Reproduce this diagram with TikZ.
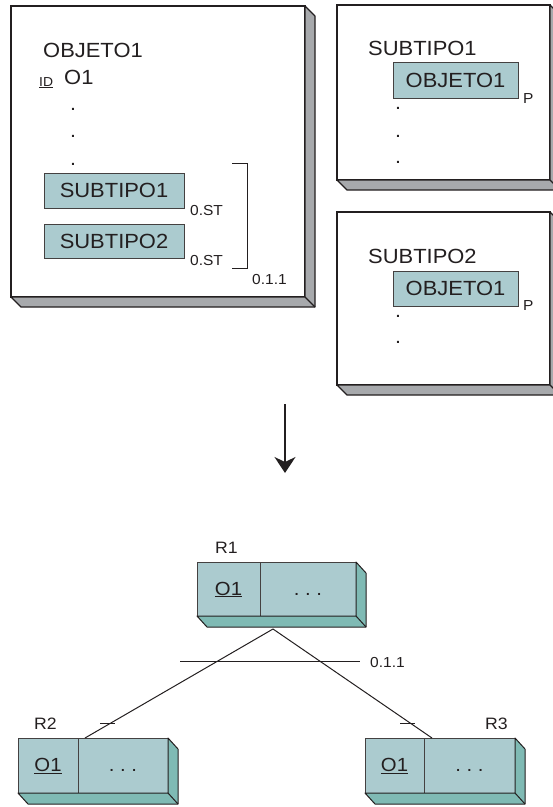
\documentclass[tikz,border=0pt]{standalone}
\usepackage{fontspec}
\setmainfont[FakeStretch=1.07]{Liberation Sans}
\usetikzlibrary{arrows.meta,positioning}
\definecolor{cellfill}{HTML}{ABCBCF}
\definecolor{cellside}{HTML}{7FBAB4}
\definecolor{panelside}{HTML}{A7A9AC}
\definecolor{ink}{HTML}{231F20}

\begin{document}
\begin{tikzpicture}[x=1pt, y=-1pt,
    panel/.style={draw=ink, line width=1.2pt, fill=white, rectangle, inner sep=0, outer sep=0, anchor=north west},
    cell/.style={draw=ink!85, line width=0.9pt, fill=cellfill, rectangle, inner sep=0, outer sep=0, anchor=north west, text=ink, font=\fontsize{20.5}{20.5}\selectfont},
    reccell/.style={cell, minimum height=55pt, text height=14pt, text depth=2pt, font=\fontsize{19}{19}\selectfont},
    txt/.style={inner sep=0, anchor=base west, text=ink, font=\fontsize{20.5}{20.5}\selectfont},
    small/.style={inner sep=0, anchor=base west, text=ink, font=\fontsize{14.5}{14.5}\selectfont},
    dotmark/.style={inner sep=0, anchor=base, text=ink, font=\fontsize{20}{20}\selectfont}]
    \useasboundingbox (0,0) rectangle (553,807);

    % Panels
    \node[panel, minimum width=294pt, minimum height=291pt] (obj) at (11,6) {};
    \node[panel, minimum width=213pt, minimum height=175pt] (sub1) at (337,5) {};
    \node[panel, minimum width=213pt, minimum height=173pt] (sub2) at (337,212) {};
    \foreach \p in {obj,sub1,sub2} {
        \draw[draw=ink, line width=1.2pt, fill=panelside, line join=round]
            (\p.north east) -- ++(10,10) -- ([shift={(10,10)}]\p.south east)
            -- ([shift={(10,10)}]\p.south west) -- (\p.south west) -- (\p.south east) -- cycle;
        \draw[draw=ink, line width=1.2pt] (\p.south east) -- ++(10,10);
    }

    % OBJETO1 panel
    \node[txt] (objname) at (43,57) {OBJETO1};
    \node[small, font=\fontsize{13}{13}\selectfont] (idmark) at (39,86) {\underline{ID}};
    \node[txt] (objid) at (64,84) {O1};
    \foreach \y in {110,137,165} \node[dotmark] at (73,\y) {.};
    \node[cell, minimum width=140pt, minimum height=35pt] (st1) at (44,173) {SUBTIPO1};
    \node[cell, minimum width=140pt, minimum height=34pt] (st2) at (44,224) {SUBTIPO2};
    \node[small] (st1card) at (190,215) {0.ST};
    \node[small] (st2card) at (190,265) {0.ST};
    \draw[ink, line width=1pt] (232,163) -- (247,163) -- (247,268) -- (232,268);
    \node[small] (stcard) at (252,284) {0.1.1};

    % SUBTIPO1 panel
    \node[txt] (sub1name) at (368,55) {SUBTIPO1};
    \node[cell, minimum width=125pt, minimum height=36pt] (ob1) at (393,62) {OBJETO1};
    \node[small] (ob1card) at (523,103) {P};
    \foreach \y in {109,137,163} \node[dotmark] at (398,\y) {.};

    % SUBTIPO2 panel
    \node[txt] (sub2name) at (368,263) {SUBTIPO2};
    \node[cell, minimum width=125pt, minimum height=35pt] (ob2) at (393,271) {OBJETO1};
    \node[small] (ob2card) at (523,310) {P};
    \foreach \y in {317,343} \node[dotmark] at (398,\y) {.};

    % Transformation arrow
    \coordinate (arrtop) at (285,404);
    \coordinate (arrtip) at (285,473);
    \draw[ink, line width=1.8pt, -{Stealth[length=16pt, width=21pt, inset=5pt]}] (arrtop) -- (arrtip);

    % Relations
    \node[reccell, minimum width=63pt, minimum height=54pt] (r1k) at (197,562) {\underline{O1}};
    \node[reccell, minimum width=96pt, minimum height=54pt, right=0pt of r1k] (r1r) {.\ .\ .};
    \node[reccell, minimum width=60pt] (r2k) at (18,738) {\underline{O1}};
    \node[reccell, minimum width=90pt, right=0pt of r2k] (r2r) {.\ .\ .};
    \node[reccell, minimum width=59pt] (r3k) at (365,738) {\underline{O1}};
    \node[reccell, minimum width=91pt, right=0pt of r3k] (r3r) {.\ .\ .};
    \foreach \k/\r in {r1k/r1r,r2k/r2r,r3k/r3r} {
        \draw[draw=ink, line width=1pt, fill=cellside, line join=round]
            (\r.north east) -- ++(10,11) -- ([shift={(10,11)}]\r.south east)
            -- ([shift={(10,11)}]\k.south west) -- (\k.south west) -- (\r.south east) -- cycle;
        \draw[draw=ink, line width=1pt] (\r.south east) -- ++(10,11);
    }
    \node[small, font=\fontsize{16.5}{16.5}\selectfont] (r1name) at (215,553) {R1};
    \node[small, font=\fontsize{16.5}{16.5}\selectfont] (r2name) at (34,729) {R2};
    \node[small, font=\fontsize{16.5}{16.5}\selectfont] (r3name) at (485,729) {R3};

    % Generalisation lines
    \coordinate (apex) at (273,629);
    \draw[ink, line width=1pt] (apex) -- ([xshift=7pt]r2r.north west);
    \draw[ink, line width=1pt] (apex) -- ([xshift=8pt]r3r.north west);
    \draw[ink, line width=1pt] (180,661) -- (360,661);
    \node[small] (gencard) at (370,667) {0.1.1};
    \draw[ink, line width=1pt] (100,723) -- (115,723);
    \draw[ink, line width=1pt] (400,723) -- (415,723);
\end{tikzpicture}
\end{document}
